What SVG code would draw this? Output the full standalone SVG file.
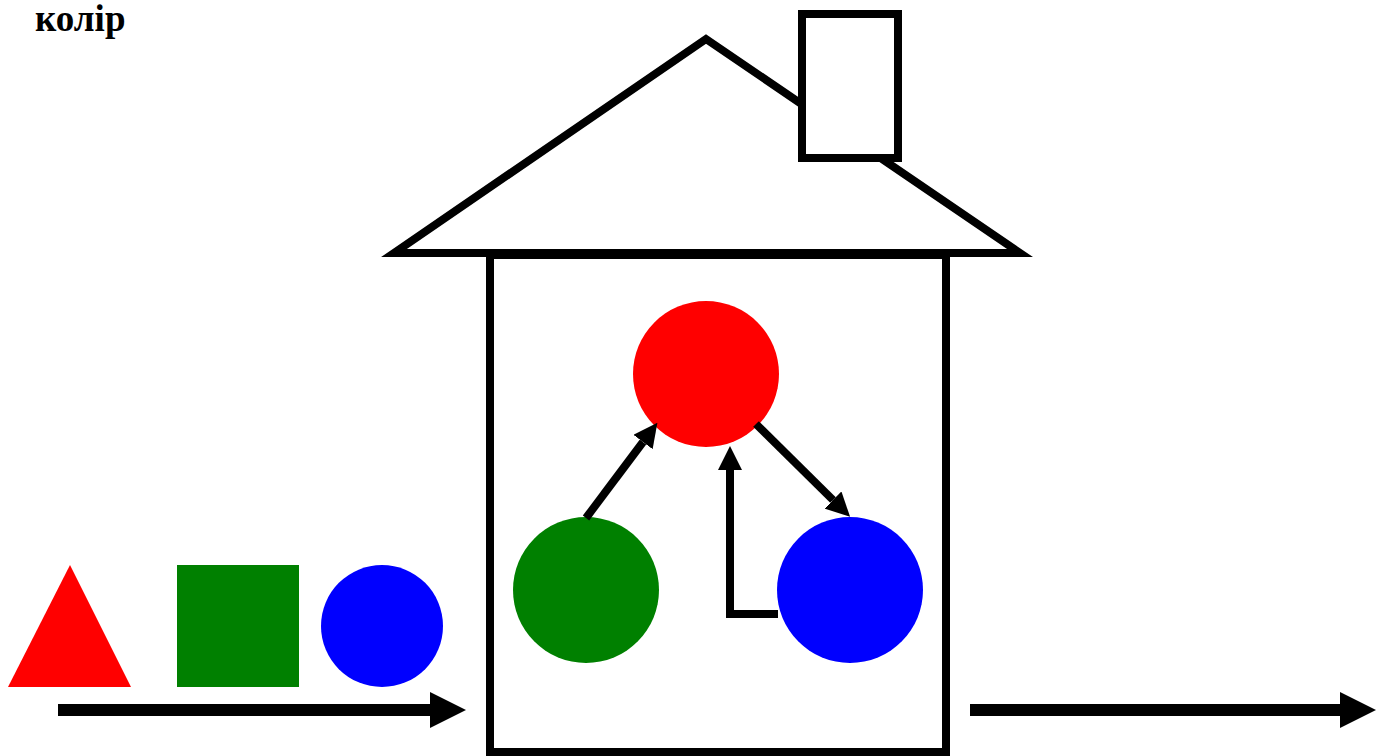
<svg xmlns="http://www.w3.org/2000/svg" width="1376" height="756" viewBox="0 0 1376 756">
<style>
.outline{fill:#fff;stroke:#000;stroke-width:8}
.conn{fill:none;stroke:#000;stroke-width:8}
.big{fill:none;stroke:#000;stroke-width:12}
.lbl{font-family:"Liberation Serif",serif;font-weight:bold;font-size:37px;fill:#000}
</style>
<defs>
<marker id="ah" markerUnits="userSpaceOnUse" markerWidth="24" markerHeight="24" viewBox="0 0 24 24" refX="0" refY="12" orient="auto">
<path d="M0,0 L24,12 L0,24 Z" fill="#000"/>
</marker>
<marker id="bh" markerUnits="userSpaceOnUse" markerWidth="36" markerHeight="36" viewBox="0 0 36 36" refX="0" refY="18" orient="auto">
<path d="M0,0 L36,18 L0,36 Z" fill="#000"/>
</marker>
</defs>
<rect width="1376" height="756" fill="#fff"/>
<text class="lbl" x="35" y="31">колір</text>
<g id="house">
<polygon class="outline" points="394,253 706,39 1020,253"/>
<rect id="chimney" class="outline" x="802" y="14" width="96" height="144"/>
<rect class="outline" x="490" y="255" width="456" height="497"/>
</g>
<g id="shapes-left">
<polygon id="triangle" points="8,687 70,565 131,687" fill="#f00"/>
<rect id="square" x="177" y="565" width="122" height="122" fill="#008000"/>
<circle id="circle-left" cx="382" cy="626" r="61" fill="#00f"/>
</g>
<g id="node-red"><circle cx="706" cy="374" r="73" fill="#f00"/></g>
<g id="node-green"><circle cx="586" cy="590" r="73" fill="#008000"/></g>
<g id="node-blue"><circle cx="850" cy="590" r="73" fill="#00f"/></g>
<g id="connectors">
<line class="conn" x1="586" y1="518" x2="643" y2="442" marker-end="url(#ah)"/>
<line class="conn" x1="756" y1="424" x2="833" y2="500" marker-end="url(#ah)"/>
<polyline class="conn" points="778,614 730,614 730,470" marker-end="url(#ah)"/>
<line class="big" x1="58" y1="710" x2="430" y2="710" marker-end="url(#bh)"/>
<line class="big" x1="970" y1="710" x2="1340" y2="710" marker-end="url(#bh)"/>
</g>
</svg>
